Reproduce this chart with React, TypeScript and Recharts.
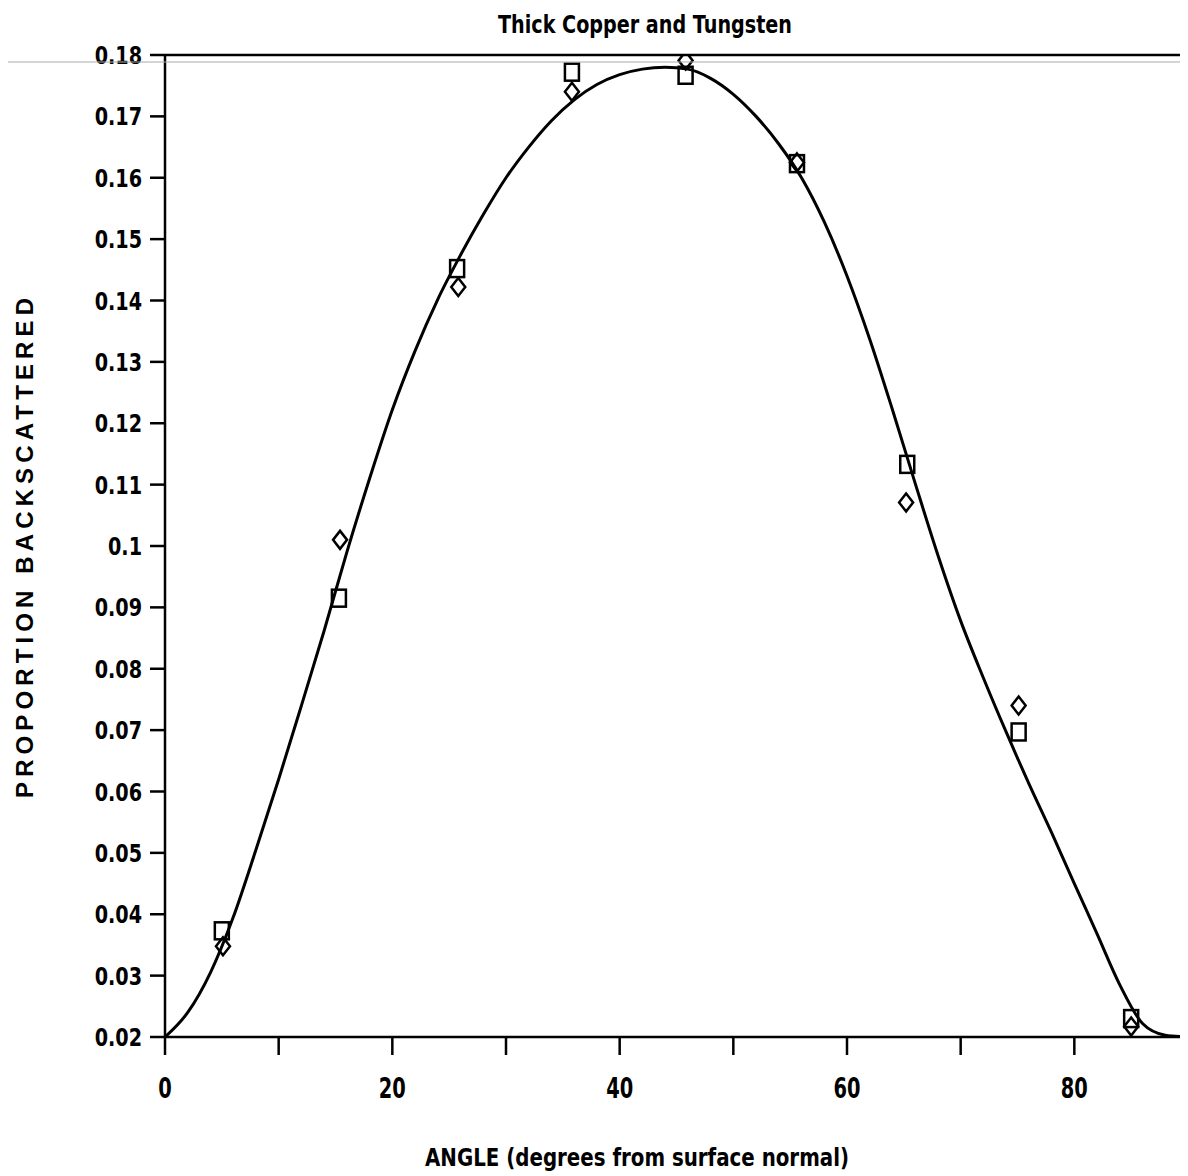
import React from 'react';
import { ComposedChart, Line, Scatter, XAxis, YAxis, ReferenceLine } from 'recharts';

// fitted curve, every 2 degrees
const curveAngle = [0, 2, 4, 6, 8, 10, 12, 14, 16, 18, 20, 22, 24, 26, 28, 30, 32, 34, 36, 38, 40, 42, 44, 46, 48, 50, 52, 54, 56, 58, 60, 62, 64, 66, 68, 70, 72, 74, 76, 78, 80, 82, 84, 86, 88, 90];
const curveValue = [0.02, 0.024, 0.0305, 0.0395, 0.0505, 0.062, 0.074, 0.0862, 0.099, 0.111, 0.1222, 0.1318, 0.1402, 0.1474, 0.154, 0.16, 0.165, 0.1693, 0.1727, 0.1752, 0.1768, 0.1777, 0.178, 0.1777, 0.1762, 0.1736, 0.17, 0.1655, 0.16, 0.1528, 0.144, 0.1337, 0.1222, 0.1102, 0.0985, 0.0878, 0.0785, 0.0697, 0.0613, 0.0533, 0.045, 0.0368, 0.0285, 0.0222, 0.0203, 0.02];

// square markers
const squareAngle = [5.0, 15.3, 25.7, 35.8, 45.8, 55.6, 65.3, 75.1, 85.0];
const squareValue = [0.0373, 0.0915, 0.1452, 0.1772, 0.1767, 0.1623, 0.1133, 0.0697, 0.023];

// diamond markers
const diamondAngle = [5.1, 15.4, 25.8, 35.8, 45.8, 55.6, 65.2, 75.1, 85.0];
const diamondValue = [0.0348, 0.101, 0.1422, 0.174, 0.1791, 0.1625, 0.1071, 0.074, 0.0217];

const xTicks = [0, 10, 20, 30, 40, 50, 60, 70, 80, 90];
const yTicks = [0.02, 0.03, 0.04, 0.05, 0.06, 0.07, 0.08, 0.09, 0.1, 0.11, 0.12, 0.13, 0.14, 0.15, 0.16, 0.17, 0.18];

const zip = (xs: number[], ys: number[]) => xs.map((x, i) => ({ x, y: ys[i] }));

const curveData = zip(curveAngle, curveValue);
const squareData = zip(squareAngle, squareValue);
const diamondData = zip(diamondAngle, diamondValue);

const W = 1188;
const H = 1176;
const FONT = '"DejaVu Sans", "Liberation Sans", sans-serif';

const SquareMark = (props: any) => {
  const { cx, cy } = props;
  return <rect x={cx - 7} y={cy - 8.5} width={14} height={17} fill="none" stroke="#000" strokeWidth={2.5} />;
};

const DiamondMark = (props: any) => {
  const { cx, cy } = props;
  const pts = `${cx},${cy - 9} ${cx + 7},${cy} ${cx},${cy + 9} ${cx - 7},${cy}`;
  return <polygon points={pts} fill="none" stroke="#000" strokeWidth={2.5} />;
};

const XTick = (props: any) => {
  const { x, y, payload } = props;
  const v = payload.value;
  if (v % 20 !== 0 || v >= 90) return <g />;
  return (
    <g transform={`translate(${x},${y + 41}) scale(0.67,1)`}>
      <text x={0} y={0} textAnchor="middle" fontFamily={FONT} fontWeight="bold" fontSize={29} fill="#000">
        {v}
      </text>
    </g>
  );
};

const YTick = (props: any) => {
  const { x, y, payload } = props;
  const label = String(Number(payload.value.toFixed(2)));
  return (
    <g transform={`translate(${x},${y + 9}) scale(0.8,1)`}>
      <text x={0} y={0} textAnchor="end" fontFamily={FONT} fontWeight="bold" fontSize={24} fill="#000">
        {label}
      </text>
    </g>
  );
};

const App = () => {
  // pull the chart into the top-left corner, past the body margin
  return (
    <div style={{ position: 'relative', width: W, height: H, margin: '-8px 0 0 -8px', background: '#fff' }}>
      <ComposedChart width={W} height={H} margin={{ top: 55, right: 0, left: 0, bottom: 79 }}>
        <XAxis
          dataKey="x"
          type="number"
          domain={[0, 90]}
          ticks={xTicks}
          interval={0}
          height={60}
          stroke="#000"
          strokeWidth={2.5}
          tickSize={18}
          tickMargin={2}
          tick={<XTick />}
          allowDataOverflow
        />
        <YAxis
          dataKey="y"
          type="number"
          domain={[0.02, 0.18]}
          ticks={yTicks}
          interval={0}
          width={165}
          stroke="#000"
          strokeWidth={2.5}
          tickSize={15}
          tickMargin={8}
          tick={<YTick />}
          allowDataOverflow
        />
        <ReferenceLine y={0.18} stroke="#000" strokeWidth={2.5} />
        <Line
          data={curveData}
          dataKey="y"
          type="monotone"
          stroke="#000"
          strokeWidth={3}
          dot={false}
          activeDot={false}
          isAnimationActive={false}
        />
        <Scatter data={squareData} dataKey="y" shape={<SquareMark />} isAnimationActive={false} />
        <Scatter data={diamondData} dataKey="y" shape={<DiamondMark />} isAnimationActive={false} />
      </ComposedChart>
      <svg
        width={W}
        height={H}
        style={{ position: 'absolute', left: 0, top: 0, pointerEvents: 'none' }}
      >
        <line x1={0} y1={62} x2={W} y2={62} stroke="#aaa" strokeWidth={1} />
        <text
          x={645}
          y={33}
          textAnchor="middle"
          fontFamily={FONT}
          fontWeight="bold"
          fontSize={25}
          textLength={294}
          lengthAdjust="spacingAndGlyphs"
          fill="#000"
        >
          Thick Copper and Tungsten
        </text>
        <text
          x={637}
          y={1166}
          textAnchor="middle"
          fontFamily={FONT}
          fontWeight="bold"
          fontSize={24}
          textLength={424}
          lengthAdjust="spacingAndGlyphs"
          fill="#000"
        >
          ANGLE (degrees from surface normal)
        </text>
        <text
          x={33}
          y={548}
          transform="rotate(-90, 33, 548)"
          textAnchor="middle"
          fontFamily='"Liberation Sans", Arial, sans-serif'
          fontWeight="bold"
          fontSize={24}
          textLength={500}
          lengthAdjust="spacing"
          fill="#000"
        >
          PROPORTION BACKSCATTERED
        </text>
      </svg>
    </div>
  );
};

export default App;
